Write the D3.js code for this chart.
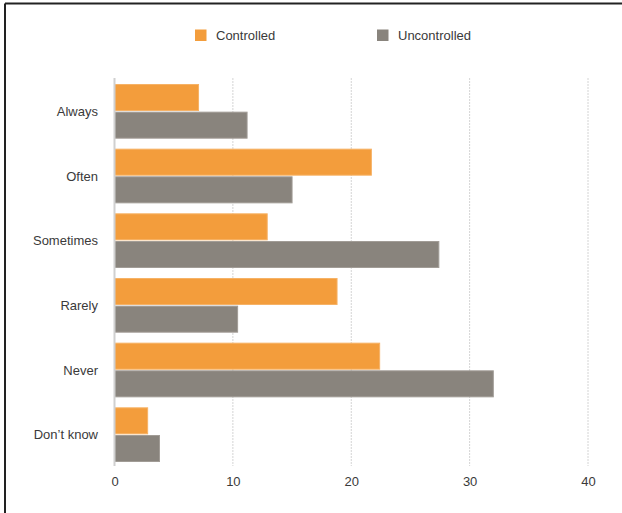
<!DOCTYPE html>
<html>
<head>
<meta charset="utf-8">
<script src="https://cdn.jsdelivr.net/npm/d3@7"></script>
<style>
  html, body { margin: 0; padding: 0; background: #fff; }
  svg { display: block; font-family: "Liberation Sans", Arial, Helvetica, sans-serif; }
</style>
</head>
<body>
<svg id="chart" width="622" height="513"></svg>
<script>
// Response categories, top to bottom
const categories = ["Always", "Often", "Sometimes", "Rarely", "Never", "Don\u2019t know"];
// Series names and values (percent of respondents)
const seriesNames = ["Controlled", "Uncontrolled"];
const controlled = [7.1, 21.7, 12.9, 18.8, 22.4, 2.8];
const uncontrolled = [11.2, 15.0, 27.4, 10.4, 32.0, 3.8];
const xTicks = [0, 10, 20, 30, 40];

const colors = { Controlled: "#f39d3c", Uncontrolled: "#89847d" };
const strokes = { Controlled: "#f6b266", Uncontrolled: "#a19c96" };

const svg = d3.select("#chart");

// Frame: top and left rules
svg.append("path")
  .attr("d", "M5,3.5H622M5,3.5V513")
  .attr("fill", "none")
  .attr("stroke", "#222")
  .attr("stroke-width", 2);

const x = d3.scaleLinear().domain([0, 40]).range([114.5, 588]);
const y = d3.scaleBand().domain(categories).range([79, 467])
  .paddingInner(0.17).paddingOuter(0.085);
const ySub = d3.scaleBand().domain(seriesNames).range([0, y.bandwidth()]).paddingInner(0.06);

// Dotted vertical grid lines
svg.append("g").selectAll("line")
  .data(xTicks.filter(d => d > 0))
  .join("line")
  .attr("x1", d => x(d)).attr("x2", d => x(d))
  .attr("y1", 78).attr("y2", 466)
  .attr("stroke", "#d4d4d4")
  .attr("stroke-width", 1)
  .attr("stroke-dasharray", "2,1");

// Bars
const rows = categories.map((c, i) => ({ c, vals: [
  { s: "Controlled", v: controlled[i] },
  { s: "Uncontrolled", v: uncontrolled[i] }
]}));

const groups = svg.append("g").selectAll("g")
  .data(rows)
  .join("g")
  .attr("transform", d => `translate(0,${y(d.c)})`);

groups.selectAll("rect")
  .data(d => d.vals)
  .join("rect")
  .attr("x", x(0))
  .attr("y", d => ySub(d.s))
  .attr("width", d => x(d.v) - x(0))
  .attr("height", ySub.bandwidth())
  .attr("fill", d => colors[d.s])
  .attr("stroke", d => strokes[d.s])
  .attr("stroke-width", 1);

// Zero baseline
svg.append("line")
  .attr("x1", x(0)).attr("x2", x(0))
  .attr("y1", 78).attr("y2", 466)
  .attr("stroke", "#d0d0d0")
  .attr("stroke-width", 2);

// Category labels
svg.append("g").selectAll("text")
  .data(categories)
  .join("text")
  .attr("x", 98)
  .attr("y", d => y(d) + y.bandwidth() / 2)
  .attr("dy", "0.35em")
  .attr("text-anchor", "end")
  .attr("font-size", 13)
  .attr("fill", "#3a3a3a")
  .text(d => d);

// Bottom axis labels
const xAxis = d3.axisBottom(x).tickValues(xTicks).tickSize(0).tickPadding(0).tickFormat(d3.format("d"));
const axisG = svg.append("g").attr("transform", "translate(0,477)").call(xAxis);
axisG.select(".domain").remove();
axisG.selectAll("text")
  .attr("font-size", 13)
  .attr("font-family", "\"Liberation Sans\", Arial, Helvetica, sans-serif")
  .attr("fill", "#3a3a3a")
  .attr("dy", "0.71em");

// Legend
const legendPos = [{ s: "Controlled", x: 195 }, { s: "Uncontrolled", x: 377 }];
const legend = svg.append("g").selectAll("g")
  .data(legendPos)
  .join("g")
  .attr("transform", d => `translate(${d.x},29.5)`);
legend.append("rect")
  .attr("width", 11.5).attr("height", 11.5)
  .attr("fill", d => colors[d.s]);
legend.append("text")
  .attr("x", 21)
  .attr("y", 6)
  .attr("dy", "0.35em")
  .attr("font-size", 13)
  .attr("fill", "#3a3a3a")
  .text(d => d.s);
</script>
</body>
</html>
